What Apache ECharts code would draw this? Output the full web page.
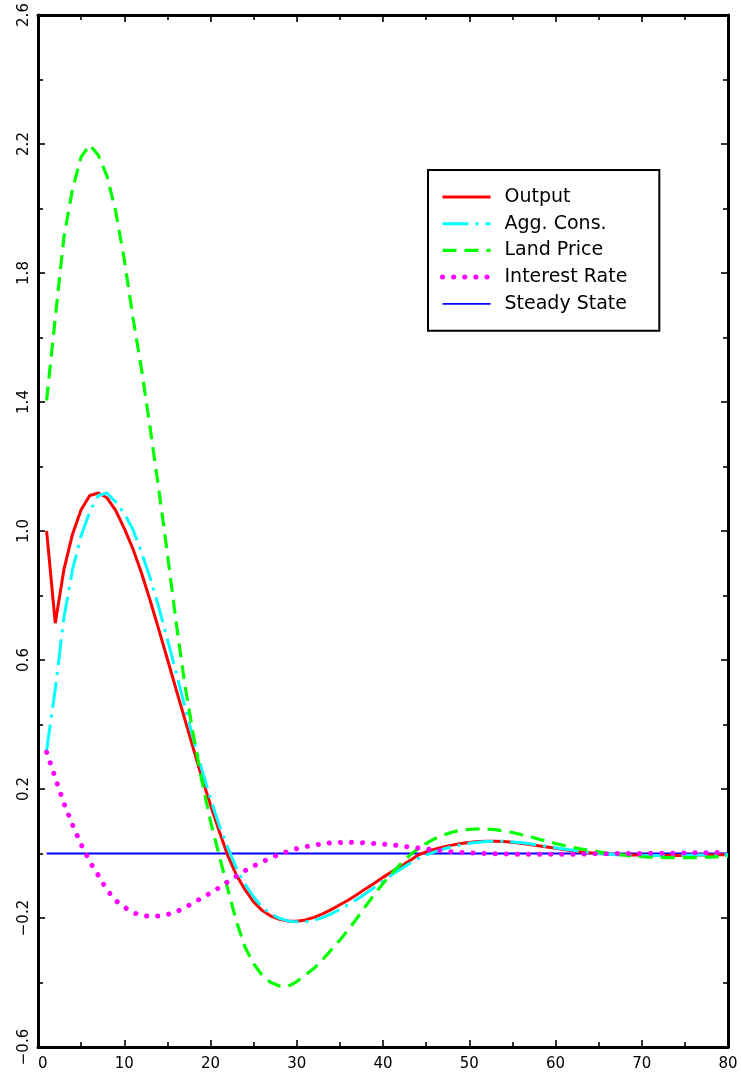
<!DOCTYPE html>
<html>
<head>
<meta charset="utf-8">
<script src="https://cdn.jsdelivr.net/npm/echarts@6/dist/echarts.min.js"></script>
<style>
  html, body { margin: 0; padding: 0; background: #ffffff; }
  #chart { width: 741px; height: 1076px; }
</style>
</head>
<body>
<div id="chart"></div>
<script>
// ---- data ----
const periods = [1,2,3,4,5,6,7,8,9,10,11,12,13,14,15,16,17,18,19,20,
  21,22,23,24,25,26,27,28,29,30,31,32,33,34,35,36,37,38,39,40,
  41,42,43,44,45,46,47,48,49,50,51,52,53,54,55,56,57,58,59,60,
  61,62,63,64,65,66,67,68,69,70,71,72,73,74,75,76,77,78,79,80];

const output = [1.000,0.714,0.880,0.990,1.066,1.110,1.118,1.103,1.064,1.008,
  0.945,0.870,0.785,0.695,0.603,0.510,0.418,0.326,0.236,0.150,
  0.070,-0.006,-0.067,-0.112,-0.150,-0.177,-0.194,-0.204,-0.209,-0.210,
  -0.206,-0.198,-0.187,-0.174,-0.159,-0.144,-0.127,-0.109,-0.092,-0.074,
  -0.057,-0.041,-0.024,-0.006,0.005,0.013,0.020,0.026,0.031,0.034,
  0.037,0.038,0.038,0.037,0.035,0.032,0.028,0.024,0.020,0.016,
  0.012,0.008,0.005,0.002,0.000,-0.002,-0.003,-0.004,-0.005,-0.005,
  -0.006,-0.006,-0.006,-0.006,-0.006,-0.005,-0.005,-0.005,-0.004,-0.004];

const aggCons = [0.320,0.510,0.730,0.880,0.985,1.060,1.110,1.118,1.090,1.055,
  1.005,0.934,0.855,0.764,0.665,0.562,0.458,0.356,0.260,0.170,
  0.088,0.018,-0.045,-0.095,-0.135,-0.167,-0.188,-0.201,-0.209,-0.212,
  -0.212,-0.207,-0.199,-0.187,-0.173,-0.158,-0.142,-0.124,-0.105,-0.086,
  -0.067,-0.049,-0.032,-0.017,-0.005,0.005,0.014,0.021,0.027,0.032,
  0.035,0.037,0.038,0.038,0.036,0.034,0.030,0.026,0.022,0.018,
  0.014,0.010,0.006,0.003,0.000,-0.002,-0.004,-0.005,-0.006,-0.006,
  -0.006,-0.006,-0.006,-0.006,-0.006,-0.005,-0.005,-0.005,-0.004,-0.004];

const landPrice = [1.405,1.660,1.910,2.060,2.160,2.197,2.165,2.100,1.992,1.843,
  1.663,1.502,1.320,1.130,0.930,0.720,0.528,0.370,0.225,0.100,
  -0.005,-0.110,-0.210,-0.290,-0.342,-0.378,-0.400,-0.411,-0.412,-0.397,
  -0.377,-0.356,-0.329,-0.299,-0.268,-0.236,-0.200,-0.163,-0.127,-0.093,
  -0.062,-0.034,-0.008,0.014,0.031,0.046,0.057,0.066,0.072,0.075,
  0.076,0.076,0.074,0.070,0.065,0.059,0.052,0.045,0.038,0.031,
  0.025,0.019,0.014,0.009,0.005,0.001,-0.002,-0.005,-0.008,-0.010,
  -0.011,-0.012,-0.013,-0.013,-0.013,-0.013,-0.012,-0.011,-0.010,-0.009];

const interestRate = [0.314,0.235,0.156,0.089,0.028,-0.025,-0.068,-0.113,-0.146,-0.166,
  -0.183,-0.192,-0.195,-0.194,-0.189,-0.181,-0.168,-0.153,-0.138,-0.122,
  -0.106,-0.088,-0.070,-0.053,-0.039,-0.026,-0.013,-0.003,0.007,0.015,
  0.021,0.026,0.030,0.033,0.034,0.035,0.034,0.033,0.031,0.029,
  0.027,0.024,0.020,0.017,0.014,0.011,0.008,0.005,0.003,0.002,
  0.001,0.000,-0.001,-0.001,-0.002,-0.002,-0.002,-0.002,-0.002,-0.002,
  -0.002,-0.002,-0.002,-0.001,-0.001,-0.001,0.000,0.000,0.000,0.000,
  0.001,0.001,0.001,0.001,0.002,0.002,0.002,0.002,0.003,0.003];

const steadyStateLevel = 0;

const seriesNames = ['Output', 'Agg. Cons.', 'Land Price', 'Interest Rate', 'Steady State'];

const xMin = 0, xMax = 80, xStep = 10;
const yMin = -0.6, yMax = 2.6, yStep = 0.4;

// ---- chart ----
const pairs = (vals) => periods.map((t, i) => [t, vals[i]]);
const steadyData = [[periods[0], steadyStateLevel], [periods[periods.length - 1], steadyStateLevel]];

const FONT = 'DejaVu Sans';
const axisCommon = {
  axisLine: { show: true, onZero: false, lineStyle: { color: '#000', width: 3 } },
  axisTick: { show: true, inside: true, length: 7, lineStyle: { color: '#000', width: 1.6 } },
  minorTick: { show: true, splitNumber: 2, length: 5, lineStyle: { color: '#000', width: 1.6 } },
  splitLine: { show: false },
  minorSplitLine: { show: false }
};

const chart = echarts.init(document.getElementById('chart'), null, { renderer: 'canvas' });

const fmtY = (v) => {
  const s = (Math.round(v * 10) / 10).toFixed(1);
  return s.replace('-', '\u2212');
};

const option = {
  animation: false,
  backgroundColor: '#ffffff',
  grid: { left: 38, right: 13, top: 15, bottom: 29, containLabel: false },
  xAxis: [
    Object.assign({
      type: 'value', position: 'bottom', min: xMin, max: xMax, interval: xStep,
      axisLabel: { show: true, color: '#000', fontFamily: FONT, fontSize: 15, margin: 10, alignMinLabel: 'left' }
    }, axisCommon),
    Object.assign({
      type: 'value', position: 'top', min: xMin, max: xMax, interval: xStep,
      axisLabel: { show: false }
    }, axisCommon)
  ],
  yAxis: [
    Object.assign({
      type: 'value', position: 'left', min: yMin, max: yMax, interval: yStep,
      axisLabel: { show: true, color: '#000', fontFamily: FONT, fontSize: 15, rotate: 90, margin: 6, formatter: fmtY }
    }, axisCommon),
    Object.assign({
      type: 'value', position: 'right', min: yMin, max: yMax, interval: yStep,
      axisLabel: { show: false }
    }, axisCommon)
  ],
  legend: {
    orient: 'vertical',
    left: 428, top: 170,
    data: seriesNames,
    backgroundColor: '#ffffff',
    borderColor: '#000', borderWidth: 2,
    padding: [17, 32, 17, 12],
    itemWidth: 48, itemHeight: 20, itemGap: 6.7,
    itemStyle: { opacity: 0 },
    lineStyle: { width: 'inherit' },
    textStyle: { color: '#000', fontFamily: FONT, fontSize: 19, lineHeight: 20, padding: [0, 0, 0, 9] }
  },
  series: [
    {
      name: seriesNames[0], type: 'line', data: pairs(output), symbol: 'none', smooth: false,
      lineStyle: { color: '#ff0000', width: 3, type: 'solid' }, itemStyle: { color: '#ff0000' }, z: 3
    },
    {
      name: seriesNames[1], type: 'line', data: pairs(aggCons), symbol: 'none',
      lineStyle: { color: '#00ffff', width: 3, type: [26, 7, 3, 7] }, itemStyle: { color: '#00ffff' }, z: 4
    },
    {
      name: seriesNames[2], type: 'line', data: pairs(landPrice), symbol: 'none',
      lineStyle: { color: '#00ff00', width: 3.2, type: [14, 8] }, itemStyle: { color: '#00ff00' }, z: 4
    },
    {
      name: seriesNames[3], type: 'line', data: pairs(interestRate), symbol: 'none',
      lineStyle: { color: '#ff00ff', width: 5, type: [0.1, 11], cap: 'round' }, itemStyle: { color: '#ff00ff' }, z: 5
    },
    {
      name: seriesNames[4], type: 'line', data: steadyData, symbol: 'none',
      lineStyle: { color: '#0000ff', width: 1.8, type: 'solid' }, itemStyle: { color: '#0000ff' }, z: 2
    }
  ]
};
chart.setOption(option);
</script>
</body>
</html>
